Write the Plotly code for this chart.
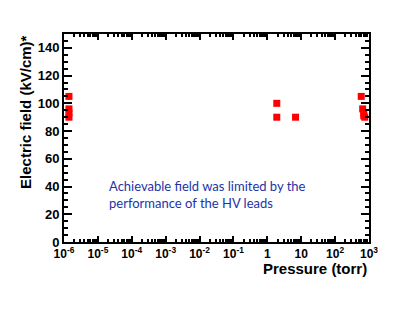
import plotly.graph_objects as go

pressure = [1.4e-6, 1.4e-6, 1.4e-6, 1.4e-6, 1.9, 1.9, 6.8, 590, 650, 700, 750, 700]
field = [105, 96, 93, 90, 100, 90, 90, 105, 96, 93, 90, 91]

x_tickvals = [1e-6, 1e-5, 1e-4, 1e-3, 1e-2, 1e-1, 1, 10, 100, 1000]
x_ticktext = ["10<sup>-6</sup>", "10<sup>-5</sup>", "10<sup>-4</sup>", "10<sup>-3</sup>",
              "10<sup>-2</sup>", "10<sup>-1</sup>", "1", "10", "10<sup>2</sup>", "10<sup>3</sup>"]
y_tickvals = [0, 20, 40, 60, 80, 100, 120, 140]

fig = go.Figure()
fig.add_trace(go.Scatter(
    x=pressure, y=field, mode="markers",
    marker=dict(symbol="square", size=7, color="#ff0000", line=dict(width=0)),
    showlegend=False,
))

fig.update_layout(
    width=415, height=312,
    margin=dict(l=64, r=46, t=34, b=70),
    paper_bgcolor="white", plot_bgcolor="white",
    font=dict(family="Liberation Sans", size=12, color="black"),
    xaxis=dict(
        type="log", range=[-6, 3],
        tickvals=x_tickvals, ticktext=x_ticktext,
        ticks="inside", ticklen=6, tickwidth=1.5, tickcolor="black",
        minor=dict(ticks="inside", ticklen=3, tickcolor="black", dtick="D1"),
        showline=True, linecolor="black", linewidth=2, mirror="ticks",
        showgrid=False, zeroline=False,
        tickfont=dict(family="Liberation Sans", size=12, color="black", weight="bold"),
    ),
    yaxis=dict(
        range=[0, 150],
        tickvals=y_tickvals,
        ticks="inside", ticklen=8, tickwidth=1.5, tickcolor="black",
        minor=dict(ticks="inside", ticklen=4, tickcolor="black", dtick=5),
        showline=True, linecolor="black", linewidth=2, mirror="ticks",
        showgrid=False, zeroline=False,
        tickfont=dict(family="Liberation Sans", size=13, color="black", weight="bold"),
    ),
)

fig.add_annotation(
    xref="paper", yref="paper", x=-0.128, y=0.625, xanchor="center", yanchor="middle",
    text="Electric field (kV/cm)*", textangle=-90, showarrow=False,
    font=dict(family="Liberation Sans", size=15, color="black", weight="bold"),
)
fig.add_annotation(
    xref="paper", yref="paper", x=1.0, y=-0.125, xanchor="right", yanchor="middle",
    text="Pressure (torr)", showarrow=False,
    font=dict(family="Liberation Sans", size=15, color="black", weight="bold"),
)
fig.add_annotation(
    xref="paper", yref="paper", x=0.14, y=0.226, xanchor="left", yanchor="middle",
    text="Achievable field was limited by the<br>performance of the HV leads",
    align="left", showarrow=False,
    font=dict(family="Lato", size=13, color="#1c34a8"),
)

fig.write_html("out.html", config={"displayModeBar": False},
               post_script="document.body.style.margin='0';")
